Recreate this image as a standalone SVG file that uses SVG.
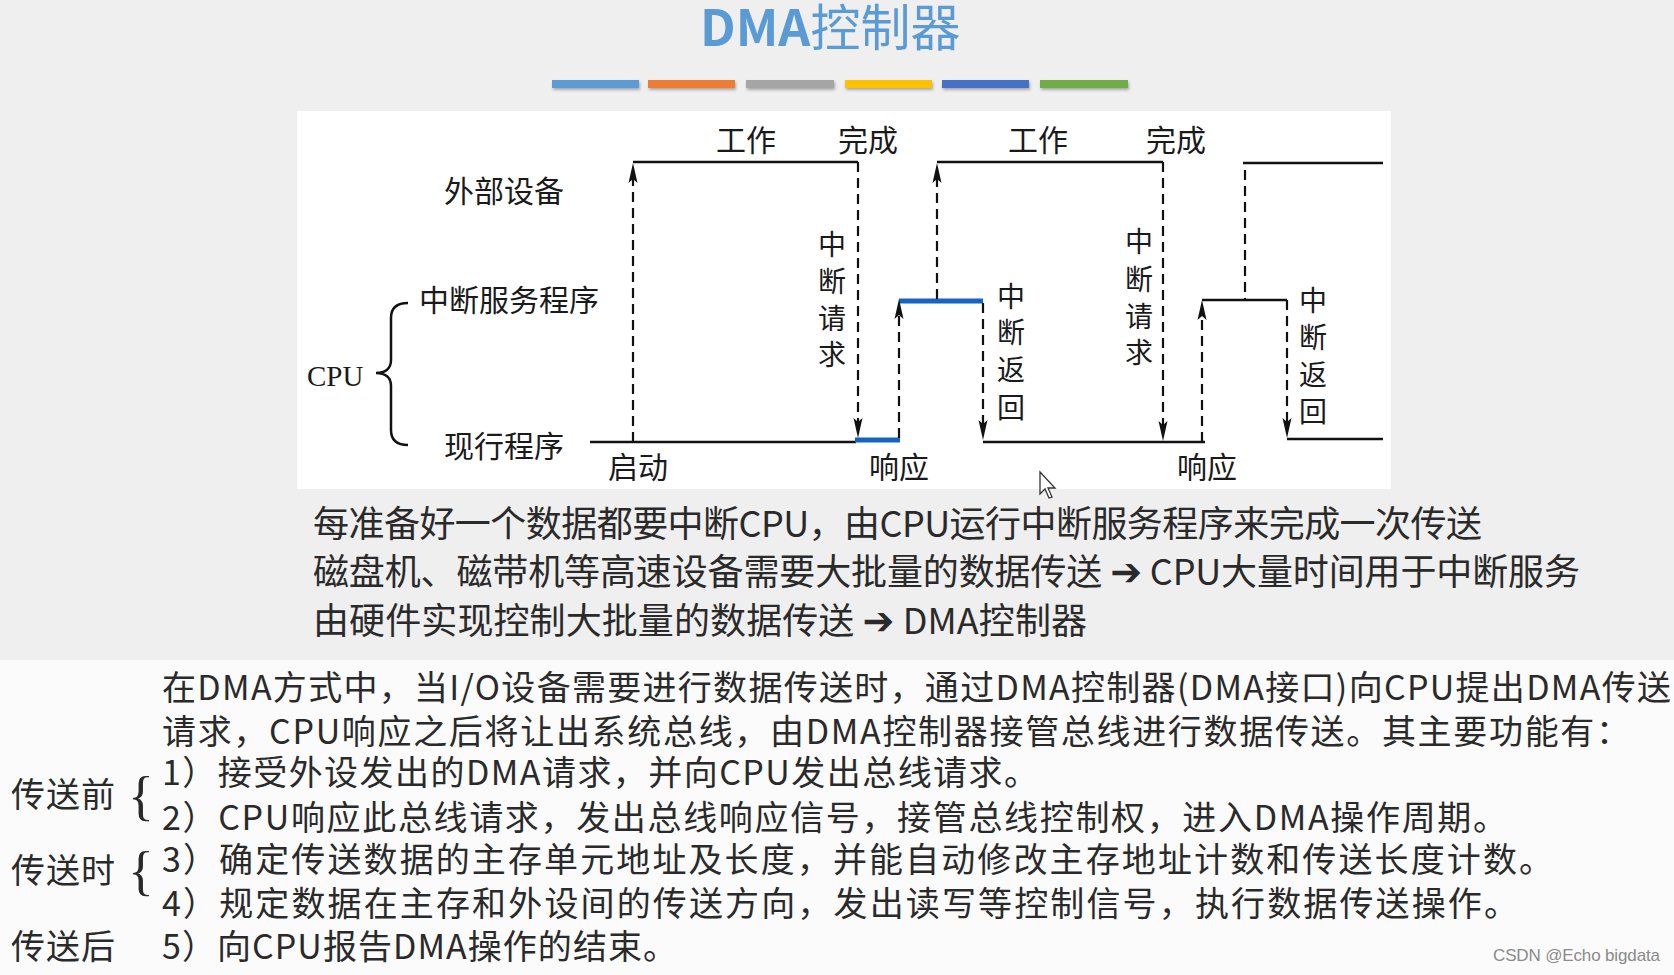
<svg xmlns="http://www.w3.org/2000/svg" width="1674" height="975" viewBox="0 0 1674 975">
<defs>
<style>
.cjk{font-family:"Noto Sans CJK SC","Noto Sans",sans-serif;}
.lbl{font-size:30px;fill:#1a1a1a;}
.vt{font-size:28px;fill:#1a1a1a;text-anchor:middle;}
.b1{font-size:36px;fill:#2a2a2a;}
.b2{font-size:34px;fill:#2a2a2a;}
.solid{stroke:#111;stroke-width:2.5;fill:none;}
.blue{stroke:#1565c0;stroke-width:5;fill:none;}
.dash{stroke:#111;stroke-width:2.2;stroke-dasharray:10 6;fill:none;}
.arr{font-family:"DejaVu Sans",sans-serif;font-size:38px;font-weight:bold;}
</style>
<marker id="ah" viewBox="0 0 20 10" refX="12" refY="5" markerWidth="20" markerHeight="10" markerUnits="userSpaceOnUse" orient="auto">
<path d="M0,0.5 L20,5 L0,9.5 L4,5 Z" fill="#111"/>
</marker>
<filter id="sh" x="-10%" y="-50%" width="120%" height="250%">
<feDropShadow dx="1" dy="2" stdDeviation="1.5" flood-color="#000" flood-opacity="0.3"/>
</filter>
</defs>

<!-- backgrounds -->
<rect x="0" y="0" width="1674" height="660" fill="#efefef"/>
<rect x="0" y="660" width="1674" height="315" fill="#fbfbfb"/>
<rect x="297" y="111" width="1094" height="378" fill="#ffffff"/>

<!-- title -->
<g id="title">
<text x="700" y="46" class="cjk" font-size="50" fill="#5b9bd5"><tspan font-weight="bold">DMA</tspan><tspan>控制器</tspan></text>
<g filter="url(#sh)">
<rect x="552" y="80" width="87" height="8" fill="#5b9bd5"/>
<rect x="648" y="80" width="87" height="8" fill="#ed7d31"/>
<rect x="746" y="80" width="88" height="8" fill="#a5a5a5"/>
<rect x="845" y="80" width="87" height="8" fill="#ffc000"/>
<rect x="942" y="80" width="87" height="8" fill="#4472c4"/>
<rect x="1040" y="80" width="88" height="8" fill="#70ad47"/>
</g>
</g>

<!-- timing diagram connectors -->
<g id="connectors">
<line class="solid" x1="590" y1="442" x2="856" y2="442"/>
<line class="blue" x1="855" y1="440" x2="900" y2="440"/>
<line class="solid" x1="633" y1="162" x2="858" y2="162"/>
<line class="blue" x1="899" y1="301" x2="983" y2="301"/>
<line class="solid" x1="937" y1="162" x2="1163" y2="162"/>
<line class="solid" x1="983" y1="442" x2="1205" y2="442"/>
<line class="solid" x1="1202" y1="300" x2="1287" y2="300"/>
<line class="solid" x1="1243" y1="163" x2="1383" y2="163"/>
<line class="solid" x1="1287" y1="439" x2="1383" y2="439"/>
<line class="dash" x1="633" y1="442" x2="633" y2="171" marker-end="url(#ah)"/>
<line class="dash" x1="858" y1="162" x2="858" y2="430" marker-end="url(#ah)"/>
<line class="dash" x1="899" y1="438" x2="899" y2="307" marker-end="url(#ah)"/>
<line class="dash" x1="937" y1="299" x2="937" y2="171" marker-end="url(#ah)"/>
<line class="dash" x1="983" y1="303" x2="983" y2="432" marker-end="url(#ah)"/>
<line class="dash" x1="1163" y1="162" x2="1163" y2="433" marker-end="url(#ah)"/>
<line class="dash" x1="1202" y1="442" x2="1202" y2="308" marker-end="url(#ah)"/>
<line class="dash" x1="1245" y1="170" x2="1245" y2="300"/>
<line class="dash" x1="1287" y1="300" x2="1287" y2="430" marker-end="url(#ah)"/>
<path class="solid" stroke-width="2" d="M408,303 C396,303 391,308 391,318 L391,360 C391,368 386,373 376,373 C386,373 391,378 391,386 L391,430 C391,440 396,445 408,445"/>
</g>

<!-- diagram labels -->
<g id="lbl-work1"><text class="cjk lbl" x="716" y="151">工作</text></g>
<g id="lbl-done1"><text class="cjk lbl" x="838" y="151">完成</text></g>
<g id="lbl-work2"><text class="cjk lbl" x="1008" y="151">工作</text></g>
<g id="lbl-done2"><text class="cjk lbl" x="1146" y="151">完成</text></g>
<g id="lbl-device"><text class="cjk lbl" x="444" y="202">外部设备</text></g>
<g id="lbl-isr"><text class="cjk lbl" x="419" y="311">中断服务程序</text></g>
<g id="lbl-cpu"><text x="307" y="386" font-family="Liberation Serif,serif" font-size="29" fill="#1a1a1a">CPU</text></g>
<g id="lbl-main"><text class="cjk lbl" x="444" y="457">现行程序</text></g>
<g id="lbl-start"><text class="cjk lbl" x="608" y="478">启动</text></g>
<g id="lbl-resp1"><text class="cjk lbl" x="869" y="478">响应</text></g>
<g id="lbl-resp2"><text class="cjk lbl" x="1177" y="478">响应</text></g>
<g id="lbl-irq1"><text class="cjk vt"><tspan x="832" y="255">中</tspan><tspan x="832" y="292">断</tspan><tspan x="832" y="329">请</tspan><tspan x="832" y="365">求</tspan></text></g>
<g id="lbl-iret1"><text class="cjk vt"><tspan x="1011" y="307">中</tspan><tspan x="1011" y="343">断</tspan><tspan x="1011" y="380">返</tspan><tspan x="1011" y="418">回</tspan></text></g>
<g id="lbl-irq2"><text class="cjk vt"><tspan x="1139" y="252">中</tspan><tspan x="1139" y="290">断</tspan><tspan x="1139" y="327">请</tspan><tspan x="1139" y="363">求</tspan></text></g>
<g id="lbl-iret2"><text class="cjk vt"><tspan x="1313" y="311">中</tspan><tspan x="1313" y="348">断</tspan><tspan x="1313" y="385">返</tspan><tspan x="1313" y="422">回</tspan></text></g>

<!-- mouse cursor -->
<path d="M1040,472 L1040,494 L1045,489 L1049,498 L1052,497 L1048,488 L1055,488 Z" fill="#fff" stroke="#333" stroke-width="1.3"/>

<!-- text block 1 -->
<g id="block1">
<text class="cjk b1" x="313" y="537" textLength="1169" lengthAdjust="spacing">每准备好一个数据都要中断CPU，由CPU运行中断服务程序来完成一次传送</text>
<text class="cjk b1" x="313" y="585" textLength="1267" lengthAdjust="spacing">磁盘机、磁带机等高速设备需要大批量的数据传送 <tspan class="arr">➔</tspan> CPU大量时间用于中断服务</text>
<text class="cjk b1" x="313" y="634" textLength="774" lengthAdjust="spacing">由硬件实现控制大批量的数据传送 <tspan class="arr">➔</tspan> DMA控制器</text>
</g>

<!-- text block 2 -->
<g id="block2">
<text class="cjk b2" x="162" y="700" textLength="1509" lengthAdjust="spacing">在DMA方式中，当I/O设备需要进行数据传送时，通过DMA控制器(DMA接口)向CPU提出DMA传送</text>
<text class="cjk b2" x="162" y="744" textLength="1468" lengthAdjust="spacing">请求，CPU响应之后将让出系统总线，由DMA控制器接管总线进行数据传送。其主要功能有：</text>
<text class="cjk b2" x="162" y="785" textLength="876" lengthAdjust="spacing">1）接受外设发出的DMA请求，并向CPU发出总线请求。</text>
<text class="cjk b2" x="162" y="830" textLength="1345" lengthAdjust="spacing">2）CPU响应此总线请求，发出总线响应信号，接管总线控制权，进入DMA操作周期。</text>
<text class="cjk b2" x="162" y="872" textLength="1391" lengthAdjust="spacing">3）确定传送数据的主存单元地址及长度，并能自动修改主存地址计数和传送长度计数。</text>
<text class="cjk b2" x="162" y="916" textLength="1356" lengthAdjust="spacing">4）规定数据在主存和外设间的传送方向，发出读写等控制信号，执行数据传送操作。</text>
<text class="cjk b2" x="162" y="959" textLength="515" lengthAdjust="spacing">5）向CPU报告DMA操作的结束。</text>
</g>

<g id="phase-before">
<text class="cjk b2" x="11" y="807" textLength="104" lengthAdjust="spacing">传送前</text>
<text x="128" y="814" font-family="Liberation Serif,serif" font-size="54" fill="#2a2a2a">{</text>
</g>
<g id="phase-during">
<text class="cjk b2" x="11" y="883" textLength="104" lengthAdjust="spacing">传送时</text>
<text x="128" y="889" font-family="Liberation Serif,serif" font-size="54" fill="#2a2a2a">{</text>
</g>
<g id="phase-after">
<text class="cjk b2" x="11" y="959" textLength="104" lengthAdjust="spacing">传送后</text>
</g>

<g id="watermark">
<text x="1493" y="961" font-family="Liberation Sans,sans-serif" font-size="17" fill="#8a8a8a" textLength="167" lengthAdjust="spacing">CSDN @Echo bigdata</text>
</g>
</svg>
